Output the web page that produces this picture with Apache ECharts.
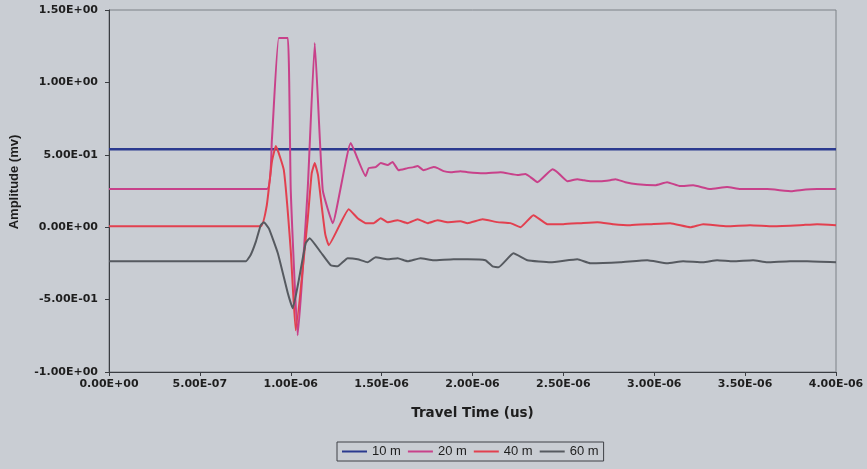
<!DOCTYPE html>
<html>
<head>
<meta charset="utf-8">
<script src="https://cdn.jsdelivr.net/npm/echarts@6/dist/echarts.min.js"></script>
<style>
  html, body { margin: 0; padding: 0; background: #c9cdd3; }
  #chart { width: 867px; height: 469px; }
</style>
</head>
<body>
<div id="chart"></div>
<script>
const seriesNames = ['10 m', '20 m', '40 m', '60 m'];
const xTicks = ['0.00E+00','5.00E-07','1.00E-06','1.50E-06','2.00E-06','2.50E-06','3.00E-06','3.50E-06','4.00E-06'];

const t10 = [0, 1e-6, 2e-6, 3e-6, 4e-6];
const v10 = [0.539, 0.539, 0.539, 0.539, 0.539];

const t20 = [0, 8.68e-7, 8.96e-7, 9.34e-7, 9.84e-7, 1.000e-6, 1.038e-6, 1.093e-6, 1.132e-6, 1.176e-6, 1.231e-6, 1.330e-6, 1.412e-6, 1.429e-6, 1.467e-6, 1.495e-6, 1.533e-6, 1.560e-6, 1.593e-6, 1.643e-6, 1.676e-6, 1.698e-6, 1.731e-6, 1.786e-6, 1.808e-6, 1.841e-6, 1.879e-6, 1.934e-6, 1.973e-6, 2.060e-6, 2.154e-6, 2.247e-6, 2.291e-6, 2.319e-6, 2.357e-6, 2.440e-6, 2.467e-6, 2.522e-6, 2.577e-6, 2.610e-6, 2.648e-6, 2.703e-6, 2.758e-6, 2.786e-6, 2.841e-6, 2.907e-6, 3.005e-6, 3.071e-6, 3.143e-6, 3.214e-6, 3.308e-6, 3.401e-6, 3.473e-6, 3.621e-6, 3.758e-6, 3.802e-6, 3.896e-6, 4.0e-6];
const v20 = [0.263, 0.263, 0.60, 1.307, 1.307, 0.256, -0.747, 0.256, 1.272, 0.256, 0.028, 0.581, 0.353, 0.408, 0.415, 0.443, 0.429, 0.450, 0.394, 0.408, 0.415, 0.422, 0.394, 0.415, 0.408, 0.387, 0.380, 0.387, 0.380, 0.373, 0.380, 0.360, 0.367, 0.346, 0.311, 0.401, 0.380, 0.318, 0.332, 0.325, 0.318, 0.318, 0.325, 0.332, 0.311, 0.297, 0.290, 0.311, 0.284, 0.290, 0.263, 0.277, 0.263, 0.263, 0.249, 0.256, 0.263, 0.263];

const t40 = [0, 8.35e-7, 8.68e-7, 8.96e-7, 9.18e-7, 9.62e-7, 1.000e-6, 1.027e-6, 1.093e-6, 1.115e-6, 1.132e-6, 1.150e-6, 1.165e-6, 1.190e-6, 1.209e-6, 1.319e-6, 1.368e-6, 1.412e-6, 1.456e-6, 1.495e-6, 1.533e-6, 1.588e-6, 1.643e-6, 1.698e-6, 1.753e-6, 1.808e-6, 1.863e-6, 1.934e-6, 1.973e-6, 2.055e-6, 2.137e-6, 2.209e-6, 2.264e-6, 2.335e-6, 2.412e-6, 2.500e-6, 2.593e-6, 2.687e-6, 2.775e-6, 2.868e-6, 2.978e-6, 3.088e-6, 3.198e-6, 3.269e-6, 3.401e-6, 3.527e-6, 3.654e-6, 3.802e-6, 3.896e-6, 4.0e-6];
const v40 = [0.007, 0.007, 0.15, 0.45, 0.560, 0.394, -0.16, -0.712, 0.05, 0.37, 0.443, 0.36, 0.20, -0.05, -0.124, 0.124, 0.062, 0.028, 0.028, 0.062, 0.035, 0.048, 0.028, 0.055, 0.028, 0.048, 0.035, 0.041, 0.028, 0.055, 0.035, 0.028, 0.0, 0.083, 0.021, 0.021, 0.028, 0.035, 0.021, 0.014, 0.021, 0.028, 0.0, 0.021, 0.007, 0.014, 0.007, 0.014, 0.021, 0.014];

const t60 = [0, 7.53e-7, 7.80e-7, 8.08e-7, 8.35e-7, 8.52e-7, 8.80e-7, 9.29e-7, 9.84e-7, 1.011e-6, 1.044e-6, 1.082e-6, 1.104e-6, 1.165e-6, 1.220e-6, 1.258e-6, 1.313e-6, 1.368e-6, 1.423e-6, 1.467e-6, 1.533e-6, 1.588e-6, 1.643e-6, 1.714e-6, 1.786e-6, 1.896e-6, 1.973e-6, 2.071e-6, 2.110e-6, 2.143e-6, 2.225e-6, 2.302e-6, 2.429e-6, 2.577e-6, 2.648e-6, 2.813e-6, 2.962e-6, 3.071e-6, 3.159e-6, 3.269e-6, 3.346e-6, 3.434e-6, 3.544e-6, 3.621e-6, 3.747e-6, 3.841e-6, 4.0e-6];
const v60 = [-0.235, -0.235, -0.19, -0.10, 0.014, 0.035, -0.01, -0.180, -0.456, -0.560, -0.367, -0.111, -0.076, -0.173, -0.263, -0.270, -0.214, -0.221, -0.242, -0.207, -0.221, -0.214, -0.235, -0.214, -0.228, -0.221, -0.221, -0.228, -0.270, -0.277, -0.180, -0.228, -0.242, -0.221, -0.249, -0.242, -0.228, -0.249, -0.235, -0.242, -0.228, -0.235, -0.228, -0.242, -0.235, -0.235, -0.242];

const colors = ['#2b3a8f', '#c8418a', '#e2404f', '#565a60'];

function pairs(t, v) { return t.map((x, i) => [x, v[i]]); }
function sci(v) {
  if (Math.abs(v) < 1e-15) return '0.00E+00';
  const s = v.toExponential(2);
  const parts = s.split('e');
  const sign = parts[1][0] === '-' ? '-' : '+';
  let d = parts[1].replace(/[+-]/, '');
  if (d.length < 2) d = '0' + d;
  return parts[0] + 'E' + sign + d;
}

const tickFont = { fontFamily: 'DejaVu Sans', fontWeight: 'bold', fontSize: 11, color: '#1e1e1e' };

const chart = echarts.init(document.getElementById('chart'), null, { renderer: 'canvas' });
const dataSets = [pairs(t10, v10), pairs(t20, v20), pairs(t40, v40), pairs(t60, v60)];

chart.setOption({
  backgroundColor: '#c9cdd3',
  animation: false,
  color: colors,
  grid: { left: 108, right: 31, top: 10, bottom: 97, show: true, borderColor: '#7d8187', borderWidth: 1, backgroundColor: 'transparent' },
  xAxis: {
    type: 'value', min: 0, max: 4e-6, interval: 5e-7,
    name: 'Travel Time (us)', nameLocation: 'middle', nameGap: 34,
    nameTextStyle: { fontFamily: 'DejaVu Sans', fontWeight: 'bold', fontSize: 13.5, color: '#1e1e1e' },
    axisLine: { show: true, onZero: false, lineStyle: { color: '#3a3d42', width: 1 } },
    axisTick: { show: true, length: 4, lineStyle: { color: '#3a3d42' } },
    axisLabel: Object.assign({ margin: 7, formatter: (v) => { const i = Math.round(v / 5e-7); return xTicks[i] !== undefined ? xTicks[i] : sci(v); } }, tickFont),
    splitLine: { show: false }
  },
  yAxis: {
    type: 'value', min: -1, max: 1.5, interval: 0.5,
    name: 'Amplitude (mv)', nameLocation: 'middle', nameGap: 88, nameRotate: 90,
    nameTextStyle: { fontFamily: 'Liberation Sans', fontWeight: 'bold', fontSize: 13, color: '#1e1e1e', padding: [0, 0, 0, 18] },
    axisLine: { show: true, onZero: false, lineStyle: { color: '#3a3d42', width: 1 } },
    axisTick: { show: true, length: 4, lineStyle: { color: '#3a3d42' } },
    axisLabel: Object.assign({ margin: 11, formatter: sci }, tickFont),
    splitLine: { show: false }
  },
  legend: {
    data: seriesNames,
    left: 337, top: 442,
    padding: [3, 5, 3, 5],
    borderColor: '#3e4146', borderWidth: 1,
    itemWidth: 25, itemHeight: 2, itemGap: 7,
    icon: 'rect',
    textStyle: { fontFamily: 'Liberation Sans', fontSize: 13, color: '#1e1e1e' }
  },
  series: seriesNames.map((n, i) => ({
    name: n,
    type: 'line',
    data: dataSets[i],
    showSymbol: false,
    symbol: 'none',
    smooth: i === 0 ? false : 0.12,
    lineStyle: { width: i === 0 ? 2.5 : 2, color: colors[i] },
    z: 2 + i
  }))
});
</script>
</body>
</html>
